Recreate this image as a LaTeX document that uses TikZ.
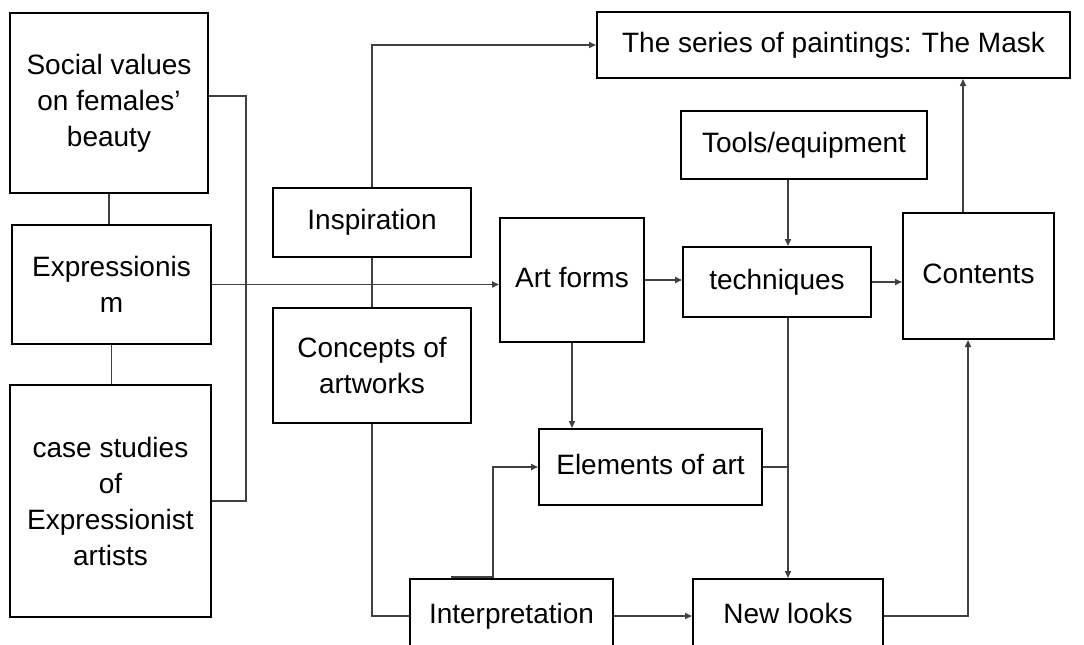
\documentclass[tikz,border=0pt]{standalone}
\usepackage{fontspec}
\setmainfont{Liberation Sans}
\usetikzlibrary{arrows.meta}
\tikzset{
  box/.style={draw=black, line width=2pt, fill=white, inner sep=0pt, align=center,
    font=\fontsize{28}{36}\selectfont},
  one/.style={text height=20pt, text depth=6pt},
  conn/.style={draw=black!75, line width=1.6pt},
  arr/.style={conn, -{Triangle[length=7pt,width=6pt]}},
}
\begin{document}
\begin{tikzpicture}[x=1pt,y=-1pt]
\clip (0,0) rectangle (1084,645);
\fill[white] (0,0) rectangle (1084,645);
% nodes
\node[box, minimum width=198, minimum height=180] (soc) at (109,103) {Social values\\on females’\\beauty};
\node[box, minimum width=199, minimum height=119] (expr) at (111.5,284.5) {Expressionis\\m};
\node[box, minimum width=201, minimum height=232] (case) at (110.5,501) {case studies\\of\\Expressionist\\artists};
\node[box, one, minimum width=198, minimum height=69] (insp) at (372,222.5) {Inspiration};
\node[box, minimum width=198, minimum height=115] (conc) at (372,365.5) {Concepts of\\artworks};
\node[box, one, minimum width=144, minimum height=124] (art) at (572,280) {Art forms};
\node[box, one, minimum width=473, minimum height=66] (series) at (833.5,45) {The series of paintings: The Mask};
\node[box, one, minimum width=246, minimum height=68] (tools) at (804,145) {Tools/equipment};
\node[box, one, minimum width=188, minimum height=70] (tech) at (777,282) {techniques};
\node[box, one, minimum width=151, minimum height=126] (cont) at (978.5,276) {Contents};
\node[box, one, minimum width=223, minimum height=76] (elem) at (650.5,467) {Elements of art};
\node[box, one, minimum width=203, minimum height=74] (interp) at (511.5,616) {Interpretation};
\node[box, one, minimum width=190, minimum height=74] (newl) at (788,616) {New looks};
% connectors
\draw[conn] (soc.south) -- (soc.south |- expr.north);
\draw[conn] (expr.south) -- (expr.south |- case.north);
\draw[conn] ([yshift=7pt]soc.east) -- ++(37,0) |- (case.east);
\draw[arr] (expr.east) -- (expr.east -| art.west);
\draw[conn] (insp.south) -- (conc.north);
\draw[arr] (insp.north) |- (series.west);
\draw[arr] (tools.south -| newl.north) -- (tech.north -| newl.north);
\draw[arr] (art.east) -- (art.east -| tech.west);
\draw[arr] (tech.east) -- (tech.east -| cont.west);
\draw[arr] ([xshift=-15.5pt]cont.north) -- ([xshift=-15.5pt]cont.north |- series.south);
\draw[arr] (art.south) -- (art.south |- elem.north);
\draw[arr] (tech.south -| newl.north) -- (newl.north);
\draw[conn] (elem.east) -- (elem.east -| newl.north);
\draw[conn] (conc.south) |- (interp.west);
\draw[arr] ([xshift=-60.5pt,yshift=1pt]interp.north) -- ([xshift=-18.5pt,yshift=1pt]interp.north) |- (elem.west);
\draw[arr] (interp.east) -- (newl.west);
\draw[arr] (newl.east) -| ([xshift=-10.5pt]cont.south);
\end{tikzpicture}
\end{document}
